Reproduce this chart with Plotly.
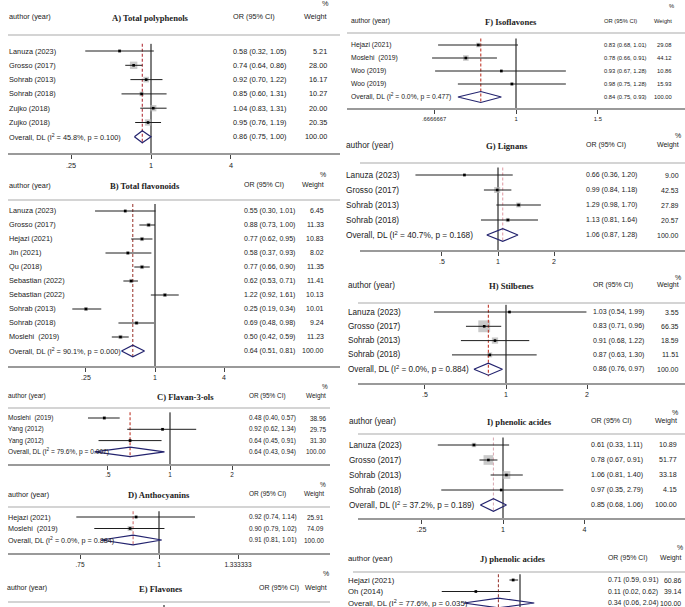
import math
import plotly.graph_objects as go

W, H = 685, 607

# ---------------- data ----------------
A_labels = ["Lanuza (2023)", "Grosso (2017)", "Sohrab (2013)", "Sohrab (2018)", "Zujko (2018)", "Zujko (2018)"]
A_or = [0.58, 0.74, 0.92, 0.85, 1.04, 0.95]
A_lo = [0.32, 0.64, 0.70, 0.60, 0.83, 0.76]
A_hi = [1.05, 0.86, 1.22, 1.31, 1.31, 1.19]
A_w = [5.21, 28.00, 16.17, 10.27, 20.00, 20.35]
A_overall = [0.86, 0.75, 1.00]
A_het = ["45.8", "0.100"]
A_ticks = [0.25, 1, 4]
A_ticktext = [".25", "1", "4"]

B_labels = ["Lanuza (2023)", "Grosso (2017)", "Hejazi (2021)", "Jin (2021)", "Qu (2018)", "Sebastian (2022)",
            "Sebastian (2022)", "Sohrab (2013)", "Sohrab (2018)", "Moslehi  (2019)"]
B_or = [0.55, 0.88, 0.77, 0.58, 0.77, 0.62, 1.22, 0.25, 0.69, 0.50]
B_lo = [0.30, 0.73, 0.62, 0.37, 0.66, 0.53, 0.92, 0.19, 0.48, 0.42]
B_hi = [1.01, 1.00, 0.95, 0.93, 0.90, 0.71, 1.61, 0.34, 0.98, 0.59]
B_w = [6.45, 11.33, 10.83, 8.02, 11.35, 11.41, 10.13, 10.01, 9.24, 11.23]
B_overall = [0.64, 0.51, 0.81]
B_het = ["90.1", "0.000"]
B_ticks = [0.25, 1, 4]
B_ticktext = [".25", "1", "4"]

C_labels = ["Moslehi  (2019)", "Yang (2012)", "Yang (2012)"]
C_or = [0.48, 0.92, 0.64]
C_lo = [0.40, 0.62, 0.45]
C_hi = [0.57, 1.34, 0.91]
C_w = [38.96, 29.75, 31.30]
C_overall = [0.64, 0.43, 0.94]
C_het = ["79.6", "0.007"]
C_ticks = [0.5, 1, 2]
C_ticktext = [".5", "1", "2"]

D_labels = ["Hejazi (2021)", "Moslehi  (2019)"]
D_or = [0.92, 0.90]
D_lo = [0.74, 0.79]
D_hi = [1.14, 1.02]
D_w = [25.91, 74.09]
D_overall = [0.91, 0.81, 1.01]
D_het = ["0.0", "0.884"]
D_ticks = [0.75, 1, 1.333333]
D_ticktext = [".75", "1", "1.333333"]

F_labels = ["Hejazi (2021)", "Moslehi  (2019)", "Woo (2019)", "Woo (2019)"]
F_or = [0.83, 0.78, 0.93, 0.98]
F_lo = [0.68, 0.66, 0.67, 0.75]
F_hi = [1.01, 0.91, 1.28, 1.28]
F_w = [29.08, 44.12, 10.86, 15.93]
F_overall = [0.84, 0.75, 0.93]
F_het = ["0.0", "0.477"]
F_ticks = [0.6666667, 1, 1.5]
F_ticktext = [".6666667", "1", "1.5"]

G_labels = ["Lanuza (2023)", "Grosso (2017)", "Sohrab (2013)", "Sohrab (2018)"]
G_or = [0.66, 0.99, 1.29, 1.13]
G_lo = [0.36, 0.84, 0.98, 0.81]
G_hi = [1.20, 1.18, 1.70, 1.64]
G_w = [9.00, 42.53, 27.89, 20.57]
G_overall = [1.06, 0.87, 1.28]
G_het = ["40.7", "0.168"]
G_ticks = [0.5, 1, 2]
G_ticktext = [".5", "1", "2"]

H_labels = ["Lanuza (2023)", "Grosso (2017)", "Sohrab (2013)", "Sohrab (2018)"]
H_or = [1.03, 0.83, 0.91, 0.87]
H_lo = [0.54, 0.71, 0.68, 0.63]
H_hi = [1.99, 0.96, 1.22, 1.30]
H_w = [3.55, 66.35, 18.59, 11.51]
H_overall = [0.86, 0.76, 0.97]
H_het = ["0.0", "0.884"]
H_ticks = [0.5, 1, 2]
H_ticktext = [".5", "1", "2"]

I_labels = ["Lanuza (2023)", "Grosso (2017)", "Sohrab (2013)", "Sohrab (2018)"]
I_or = [0.61, 0.78, 1.06, 0.97]
I_lo = [0.33, 0.67, 0.81, 0.35]
I_hi = [1.11, 0.91, 1.40, 2.79]
I_w = [10.89, 51.77, 33.18, 4.15]
I_overall = [0.85, 0.68, 1.06]
I_het = ["37.2", "0.189"]
I_ticks = [0.25, 1, 4]
I_ticktext = [".25", "1", "4"]

J_labels = ["Hejazi (2021)", "Oh (2014)"]
J_or = [0.71, 0.11]
J_lo = [0.59, 0.02]
J_hi = [0.91, 0.62]
J_w = [60.86, 39.14]
J_overall = [0.34, 0.06, 2.04]
J_het = ["77.6", "0.035"]
J_ticks = []
J_ticktext = []

OVERALL_WEIGHT = 100.00

TITLES = {"A": "A) Total polyphenols", "B": "B) Total flavonoids", "C": "C) Flavan-3-ols",
          "D": "D) Anthocyanins", "E": "E) Flavones", "F": "F) Isoflavones", "G": "G) Lignans",
          "H": "H) Stilbenes", "I": "I) phenolic acides", "J": "J) phenolic acides"}

DATA = {
    "A": (A_labels, A_or, A_lo, A_hi, A_w, A_overall, A_het, A_ticks, A_ticktext),
    "B": (B_labels, B_or, B_lo, B_hi, B_w, B_overall, B_het, B_ticks, B_ticktext),
    "C": (C_labels, C_or, C_lo, C_hi, C_w, C_overall, C_het, C_ticks, C_ticktext),
    "D": (D_labels, D_or, D_lo, D_hi, D_w, D_overall, D_het, D_ticks, D_ticktext),
    "F": (F_labels, F_or, F_lo, F_hi, F_w, F_overall, F_het, F_ticks, F_ticktext),
    "G": (G_labels, G_or, G_lo, G_hi, G_w, G_overall, G_het, G_ticks, G_ticktext),
    "H": (H_labels, H_or, H_lo, H_hi, H_w, H_overall, H_het, H_ticks, H_ticktext),
    "I": (I_labels, I_or, I_lo, I_hi, I_w, I_overall, I_het, I_ticks, I_ticktext),
    "J": (J_labels, J_or, J_lo, J_hi, J_w, J_overall, J_het, J_ticks, J_ticktext),
}

# ---------------- layout geometry (pixels) ----------------
GEO = {
    "A": dict(L=8, R=340, N=151, s=57.7, y0=51, sp=14.3, hp=35, ap=153, head=17, pct=4, tx=150, lx=8, vx=232, wx=328, hl=(8, 340), fs=7.3, vfs=7.3, k=1.4, dc="#b2323a"),
    "B": dict(L=8, R=340, N=155, s=49.8, y0=211, sp=14.0, hp=200, ap=366, head=185, pct=175, tx=145, lx=8, vx=243, wx=325, hl=(8, 340), fs=7.3, vfs=7.0, k=1.25, dc="#a0413a"),
    "C": dict(L=8, R=330, N=170, s=89.5, y0=418, sp=11.3, hp=408, ap=464, head=396, pct=386, tx=185, lx=7, vx=248, wx=327, hl=(8, 330), fs=6.6, vfs=6.4, k=0.55, dc="#c0392b"),
    "D": dict(L=8, R=330, N=159, s=274.6, y0=517, sp=11.5, hp=507, ap=553, head=494, pct=484, tx=159, lx=7, vx=248, wx=325, hl=(8, 330), fs=7.2, vfs=6.5, k=0.58, dc="#d07070"),
    "E": dict(L=8, R=330, N=164, s=100.0, y0=612, sp=12, hp=602, ap=607, head=588, pct=573, tx=161, lx=6, vx=258, wx=328, hl=(8, 330), fs=7.0, vfs=7.0, k=0.5, dc="#c0392b"),
    "F": dict(L=347, R=685, N=516, s=202.0, y0=45, sp=13.0, hp=33, ap=108, head=21, pct=6, tx=511, lx=350, vx=603, wx=673, hl=(347, 685), fs=6.8, vfs=5.8, k=0.85, dc="#c0392b"),
    "G": dict(L=360, R=685, N=498, s=80.8, y0=175, sp=15.0, hp=163, ap=250, head=145, pct=136, tx=507, lx=345, vx=585, wx=680, hl=(360, 685), fs=8.3, vfs=7.0, k=0.93, dc="#e3a2ab"),
    "H": dict(L=358, R=685, N=506, s=116.9, y0=312, sp=14.3, hp=303, ap=383, head=285, pct=277, tx=512, lx=347, vx=592, wx=680, hl=(358, 685), fs=8.2, vfs=7.0, k=1.45, dc="#c0392b"),
    "I": dict(L=358, R=685, N=503, s=58.8, y0=445, sp=15.0, hp=434, ap=518, head=421, pct=413, tx=519, lx=348, vx=590, wx=678, hl=(358, 685), fs=8.2, vfs=7.1, k=1.35, dc="#dcb0b8"),
    "J": dict(L=353, R=685, N=520, s=20.0, y0=580, sp=11.5, hp=572, ap=607, head=558, pct=547, tx=513, lx=347, vx=607, wx=682, hl=(353, 685), fs=7.8, vfs=6.9, k=0.4, dc="#a0413a"),
}
ORDER = ["A", "B", "C", "D", "E", "F", "G", "H", "I", "J"]

SANS = "Liberation Sans, Arial, sans-serif"
SERIF = "Liberation Serif, Times New Roman, serif"
TXT = "#222222"
BOX = "#b4b4b4"
DIAM = "#23236e"

fig = go.Figure()
axes = {}
annotations = []
shapes = []


def pann(text, xpx, ypx, xanchor, size, family=SANS):
    annotations.append(dict(text=text, x=xpx / W, y=1 - ypx / H, xref="paper", yref="paper",
                            xanchor=xanchor, yanchor="middle", showarrow=False, borderpad=0,
                            font=dict(size=size, family=family, color=TXT)))


def rann(text, xpx, yval, yref, xanchor, size):
    annotations.append(dict(text=text, x=xpx / W, y=yval, xref="paper", yref=yref,
                            xanchor=xanchor, yanchor="middle", showarrow=False, borderpad=0,
                            font=dict(size=size, family=SANS, color=TXT)))


for i, key in enumerate(ORDER, start=1):
    g = GEO[key]
    xr = "x" if i == 1 else f"x{i}"
    yr = "y" if i == 1 else f"y{i}"
    xname = "xaxis" if i == 1 else f"xaxis{i}"
    yname = "yaxis" if i == 1 else f"yaxis{i}"
    ln10 = math.log(10)
    xrange = [(g["L"] - g["N"]) / g["s"] / ln10, (g["R"] - g["N"]) / g["s"] / ln10]
    ybot = (g["ap"] - g["y0"]) / g["sp"]
    ytop = (g["hp"] - g["y0"]) / g["sp"]
    has_axis = key in DATA and len(DATA[key][7]) > 0
    ticks = DATA[key][7] if key in DATA else []
    ticktext = DATA[key][8] if key in DATA else []
    xa = dict(type="log", range=xrange, domain=[g["L"] / W, g["R"] / W], anchor=yr,
              showline=has_axis, showgrid=False, zeroline=False, fixedrange=True)
    if has_axis:
        xa.update(linecolor="#9a9a9a", linewidth=1.6, ticks="outside", ticklen=4, tickwidth=1,
                  tickcolor="#444", tickvals=ticks, ticktext=ticktext, showticklabels=True,
                  tickfont=dict(size=g["vfs"], family=SANS, color=TXT))
    else:
        xa.update(showticklabels=False, ticks="")
    axes[xname] = xa
    axes[yname] = dict(domain=[max(0, 1 - g["ap"] / H), 1 - g["hp"] / H], range=[ybot, ytop],
                       visible=False, anchor=xr, fixedrange=True)

    # header row
    fs, vfs = g["fs"], g["vfs"]
    pann("%", g["wx"] + 2, g["pct"], "right", vfs)
    pann("author (year)", g["lx"], g["head"], "left", fs)
    pann("<b>" + TITLES[key] + "</b>", g["tx"], g["head"] + 1, "center", 8.6, SERIF)
    pann("OR (95% CI)", g["vx"], g["head"], "left", vfs)
    pann("Weight", g["wx"], g["head"], "right", vfs)
    shapes.append(dict(type="line", xref="paper", yref="paper", x0=g["hl"][0] / W, x1=g["hl"][1] / W,
                       y0=1 - g["hp"] / H, y1=1 - g["hp"] / H, line=dict(color="#c6c6c6", width=1.4)))

    if key not in DATA:
        fig.add_trace(go.Scatter(x=[1, 1], y=[ytop + 0.25, ybot], mode="lines", xaxis=xr, yaxis=yr,
                                 line=dict(color="black", width=1), hoverinfo="skip", showlegend=False))
        continue

    labels, orv, lo, hi, w, ov, het, _, _ = DATA[key]
    n = len(labels)
    idx = list(range(n))

    # null line
    fig.add_trace(go.Scatter(x=[1, 1], y=[-0.5, ybot], mode="lines", xaxis=xr, yaxis=yr,
                             line=dict(color="black", width=1), hoverinfo="skip", showlegend=False))
    # weight boxes
    fig.add_trace(go.Scatter(x=orv, y=idx, mode="markers", xaxis=xr, yaxis=yr,
                             marker=dict(symbol="square", size=[g["k"] * math.sqrt(v) for v in w],
                                         color=BOX, line=dict(width=0)),
                             hoverinfo="skip", showlegend=False))
    # overall dashed line
    fig.add_trace(go.Scatter(x=[ov[0], ov[0]], y=[-0.5, n + 0.5], mode="lines", xaxis=xr, yaxis=yr,
                             line=dict(color=g["dc"], width=1.1, dash="3px,2px"),
                             hoverinfo="skip", showlegend=False))
    # CI lines
    cx, cy = [], []
    for j in idx:
        cx += [lo[j], hi[j], None]
        cy += [j, j, None]
    fig.add_trace(go.Scatter(x=cx, y=cy, mode="lines", xaxis=xr, yaxis=yr,
                             line=dict(color="#1e1e1e", width=1), hoverinfo="skip", showlegend=False))
    # point estimates
    fig.add_trace(go.Scatter(x=orv, y=idx, mode="markers", xaxis=xr, yaxis=yr,
                             marker=dict(symbol="square", size=2.6, color="black", line=dict(width=0)),
                             hoverinfo="skip", showlegend=False))
    # overall diamond
    hh = 0.42
    fig.add_trace(go.Scatter(x=[ov[1], ov[0], ov[2], ov[0], ov[1]], y=[n, n - hh, n, n + hh, n],
                             mode="lines", xaxis=xr, yaxis=yr, line=dict(color=DIAM, width=1.2),
                             hoverinfo="skip", showlegend=False))

    # text columns
    for j in idx:
        rann(labels[j], g["lx"], j, yr, "left", fs)
        rann(f"{orv[j]:.2f} ({lo[j]:.2f}, {hi[j]:.2f})", g["vx"], j, yr, "left", vfs)
        rann(f"{w[j]:.2f}", g["wx"], j, yr, "right", vfs)
    rann(f"Overall, DL (I<sup>2</sup> = {het[0]}%, p = {het[1]})", g["lx"], n, yr, "left", fs)
    rann(f"{ov[0]:.2f} ({ov[1]:.2f}, {ov[2]:.2f})", g["vx"], n, yr, "left", vfs)
    rann(f"{OVERALL_WEIGHT:.2f}", g["wx"], n, yr, "right", vfs)

fig.update_layout(width=W, height=H, autosize=False, margin=dict(l=0, r=0, t=0, b=0),
                  paper_bgcolor="white", plot_bgcolor="white", showlegend=False,
                  annotations=annotations, shapes=shapes, **axes)

fig.write_html("out.html", config={"displayModeBar": False},
               post_script="document.body.style.margin='0';document.body.style.overflow='hidden';")
